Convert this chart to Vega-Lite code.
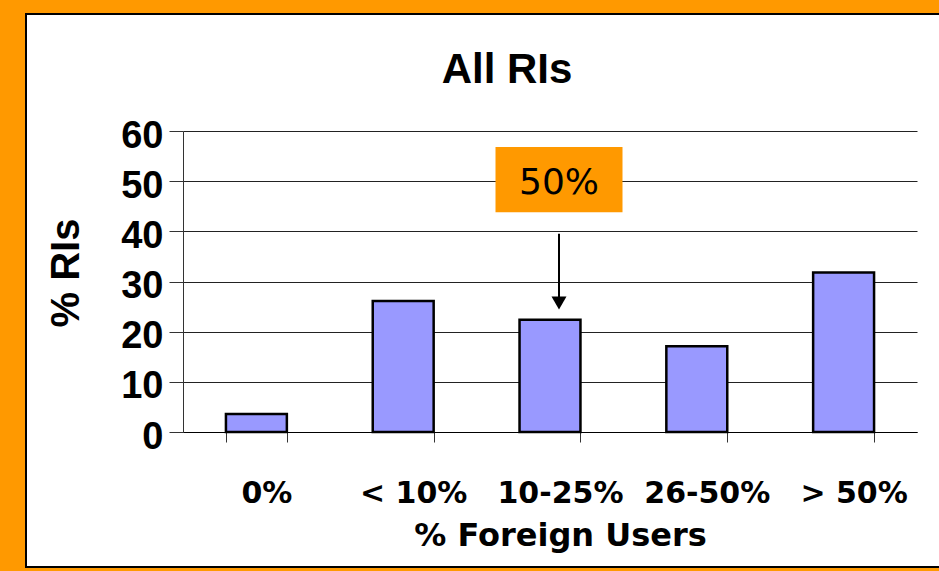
{
  "$schema": "https://vega.github.io/schema/vega-lite/v6.json",
  "width": 914,
  "height": 553,
  "autosize": {"type": "none"},
  "padding": {"left": 26, "top": 14, "right": 0, "bottom": 4},
  "background": "#FF9900",
  "config": {
    "view": {"fill": "white", "stroke": "black", "strokeWidth": 2},
    "axisX": {
      "titleFont": "DejaVu Sans",
      "titleFontSize": 32,
      "titleFontWeight": "bold",
      "titleColor": "black",
      "titlePadding": 12,
      "titleX": 534,
      "labelFont": "DejaVu Sans",
      "labelFontSize": 30,
      "labelFontWeight": "bold",
      "labelColor": "black",
      "labelAngle": 0,
      "labelPadding": 36,
      "labelOffset": 10,
      "labelLimit": 0,
      "labelOverlap": false,
      "tickSize": 10,
      "tickColor": "#333333",
      "tickBand": "extent",
      "domainColor": "#000000",
      "grid": false
    },
    "axisY": {
      "titleFont": "Liberation Sans",
      "titleFontSize": 40,
      "titleFontWeight": "bold",
      "titleColor": "black",
      "titlePadding": 34,
      "titleY": 258.5,
      "labelFont": "Liberation Sans",
      "labelFontSize": 38,
      "labelFontWeight": "bold",
      "labelColor": "black",
      "labelPadding": 6,
      "labelOffset": 5,
      "labelOverlap": false,
      "tickSize": 14,
      "tickColor": "#333333",
      "domainColor": "#333333",
      "grid": true,
      "gridColor": "#222222",
      "gridWidth": 1
    }
  },
  "title": {
    "text": "All RIs",
    "font": "Liberation Sans",
    "fontSize": 42,
    "fontWeight": "bold",
    "color": "black",
    "frame": "group",
    "anchor": "middle",
    "baseline": "alphabetic",
    "offset": -111,
    "dx": 24
  },
  "layer": [
    {
      "data": {
        "values": [
          {"users": "0%", "pct": 3.6},
          {"users": "< 10%", "pct": 26.1},
          {"users": "10-25%", "pct": 22.4},
          {"users": "26-50%", "pct": 17.1},
          {"users": "> 50%", "pct": 31.8}
        ]
      },
      "mark": {"type": "bar", "fill": "#9999FF", "stroke": "black", "strokeWidth": 2.5},
      "encoding": {
        "x": {
          "field": "users",
          "type": "nominal",
          "sort": null,
          "title": "% Foreign Users",
          "axis": {"offset": -135},
          "scale": {
            "domain": ["0%", "< 10%", "10-25%", "26-50%", "> 50%"],
            "range": [157, 891],
            "paddingInner": 0.585,
            "paddingOuter": 0.2925
          }
        },
        "y": {
          "field": "pct",
          "type": "quantitative",
          "title": "% RIs",
          "axis": {"offset": -157, "values": [0, 10, 20, 30, 40, 50, 60]},
          "scale": {"domain": [0, 60], "range": [418, 117], "nice": false}
        }
      }
    },
    {
      "data": {"values": [{"users": "10-25%", "note": "50%"}]},
      "layer": [
        {
          "mark": {"type": "bar", "fill": "#FF9900", "width": 127, "xOffset": 9},
          "encoding": {
            "x": {"field": "users", "type": "nominal", "title": "% Foreign Users", "axis": {"offset": -135}},
            "y": {"datum": 43.8, "type": "quantitative", "title": "% RIs", "axis": {"offset": -157, "values": [0, 10, 20, 30, 40, 50, 60]}},
            "y2": {"datum": 56.8}
          }
        },
        {
          "mark": {"type": "text", "font": "DejaVu Sans", "fontSize": 36, "color": "black", "align": "center", "baseline": "middle", "xOffset": 9},
          "encoding": {
            "x": {"field": "users", "type": "nominal", "title": "% Foreign Users", "axis": {"offset": -135}},
            "y": {"datum": 49.7, "type": "quantitative", "title": "% RIs", "axis": {"offset": -157, "values": [0, 10, 20, 30, 40, 50, 60]}},
            "text": {"field": "note"}
          }
        },
        {
          "mark": {"type": "rule", "color": "black", "strokeWidth": 2, "xOffset": 9},
          "encoding": {
            "x": {"field": "users", "type": "nominal", "title": "% Foreign Users", "axis": {"offset": -135}},
            "y": {"datum": 39.5, "type": "quantitative", "title": "% RIs", "axis": {"offset": -157, "values": [0, 10, 20, 30, 40, 50, 60]}},
            "y2": {"datum": 26.9}
          }
        },
        {
          "mark": {"type": "point", "shape": "triangle-down", "size": 225, "filled": true, "color": "black", "opacity": 1, "xOffset": 9},
          "encoding": {
            "x": {"field": "users", "type": "nominal", "title": "% Foreign Users", "axis": {"offset": -135}},
            "y": {"datum": 25.7, "type": "quantitative", "title": "% RIs", "axis": {"offset": -157, "values": [0, 10, 20, 30, 40, 50, 60]}}
          }
        }
      ]
    }
  ]
}
